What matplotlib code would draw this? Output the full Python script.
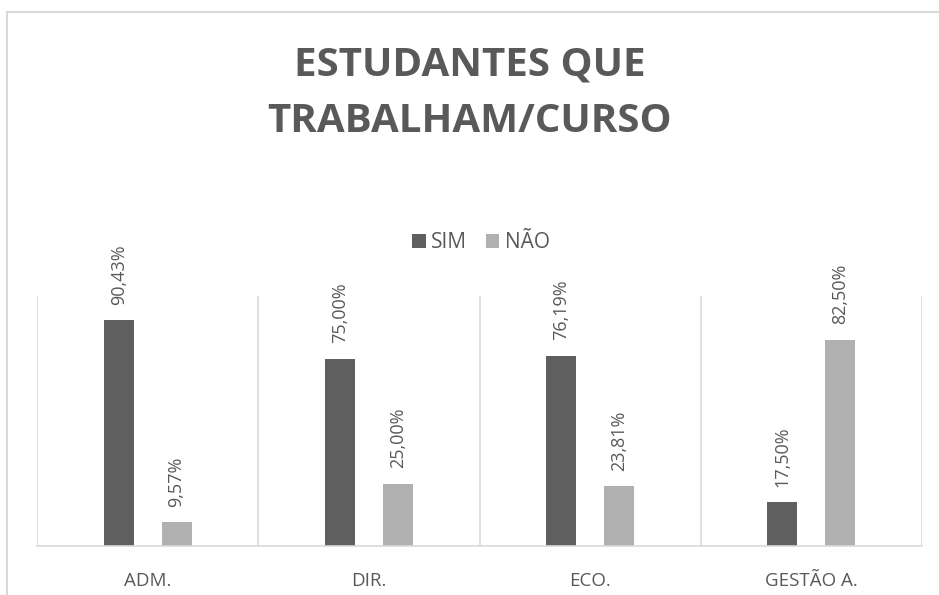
import matplotlib.pyplot as plt
import numpy as np
from matplotlib.patches import Rectangle

cursos = ["ADM.", "DIR.", "ECO.", "GESTÃO A."]
sim = [90.43, 75.00, 76.19, 17.50]
nao = [9.57, 25.00, 23.81, 82.50]

cor_sim = "#5f5f5f"
cor_nao = "#b0b0b0"
cor_texto = "#595959"
cor_grade = "#d9d9d9"

plt.rcParams['font.family'] = ['Open Sans', 'DejaVu Sans']

fig = plt.figure(figsize=(9.39, 5.95), dpi=100)
ax = fig.add_axes([37 / 939, 1 - 546 / 595, 885 / 939, 250 / 595])

x = np.arange(len(cursos))
largura = 0.136
desloc = 0.131

b1 = ax.bar(x - desloc, sim, largura, color=cor_sim, label="SIM")
b2 = ax.bar(x + desloc, nao, largura, color=cor_nao, label="NÃO")

def rotulos(barras):
    for b in barras:
        h = b.get_height()
        ax.annotate(f"{h:.2f}%".replace(".", ","),
                    (b.get_x() + b.get_width() / 2, h),
                    xytext=(0, 11), textcoords="offset points",
                    ha="center", va="bottom", rotation=90,
                    fontsize=13, color=cor_texto)

rotulos(b1)
rotulos(b2)

ax.set_xlim(-0.5, len(cursos) - 0.5)
ax.set_ylim(0, 100)
for s in ["top", "right", "left"]:
    ax.spines[s].set_visible(False)
ax.spines["bottom"].set_color(cor_grade)
ax.spines["bottom"].set_linewidth(1.2)

# linhas separadoras entre categorias
for xi in np.arange(-0.5, len(cursos), 1.0):
    ax.axvline(xi, color=cor_grade, lw=1.2, zorder=0)

ax.set_yticks([])
ax.set_xticks(x)
ax.set_xticklabels(cursos, fontsize=13.5, color=cor_texto)
ax.tick_params(axis="x", length=0, pad=19)

fig.legend(handles=[b1, b2], labels=["SIM", "NÃO"], loc="center",
           bbox_to_anchor=(481 / 939, 1 - 243 / 595), ncol=2, frameon=False,
           fontsize=15, labelcolor=cor_texto, handlelength=0.65, handleheight=0.65,
           handletextpad=0.25, columnspacing=0.9)

fig.text(0.5, 1 - 93 / 595, "ESTUDANTES QUE\nTRABALHAM/CURSO", ha="center",
         va="center", fontsize=29, fontweight="bold", color=cor_texto,
         linespacing=1.6)

# moldura do gráfico
fig.patches.append(Rectangle((7 / 939, -0.1), 1.2, 1 - 12 / 595 + 0.1,
                             transform=fig.transFigure, fill=False,
                             edgecolor=cor_grade, lw=1.5))

fig.savefig("out.png", dpi=100)
